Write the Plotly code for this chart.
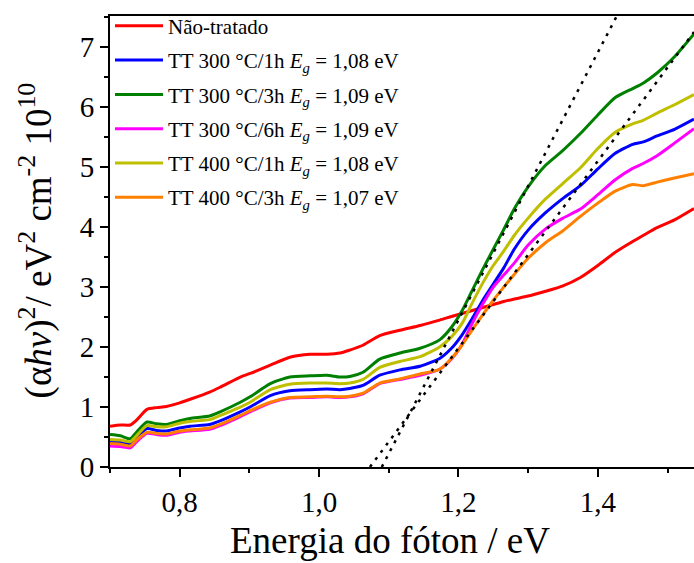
import plotly.graph_objects as go

energia = [0.700, 0.715, 0.729, 0.738, 0.753, 0.767, 0.781, 0.800, 0.815, 0.843,
           0.858, 0.887, 0.901, 0.930, 0.958, 0.987, 1.011, 1.030, 1.044, 1.063,
           1.087, 1.116, 1.145, 1.173, 1.190, 1.205, 1.220, 1.235, 1.250, 1.265,
           1.280, 1.300, 1.325, 1.350, 1.375, 1.400, 1.425, 1.450, 1.465, 1.485,
           1.510, 1.538]

nao_tratado = [0.68, 0.70, 0.70, 0.78, 0.96, 0.99, 1.01, 1.07, 1.13, 1.25,
               1.33, 1.50, 1.56, 1.70, 1.83, 1.88, 1.88, 1.90, 1.95, 2.03,
               2.19, 2.28, 2.36, 2.45, 2.51, 2.56, 2.61, 2.66, 2.71, 2.76,
               2.80, 2.85, 2.93, 3.02, 3.16, 3.36, 3.58, 3.76, 3.86, 3.99,
               4.12, 4.31]

tt300_1h = [0.43, 0.42, 0.39, 0.48, 0.64, 0.61, 0.60, 0.65, 0.68, 0.71,
            0.77, 0.92, 1.00, 1.19, 1.27, 1.29, 1.30, 1.29, 1.31, 1.36,
            1.53, 1.62, 1.68, 1.81, 1.98, 2.20, 2.48, 2.78, 3.05, 3.32,
            3.63, 3.95, 4.24, 4.48, 4.69, 4.97, 5.23, 5.38, 5.42, 5.52,
            5.63, 5.80]

tt300_3h = [0.54, 0.52, 0.47, 0.58, 0.75, 0.72, 0.71, 0.77, 0.81, 0.85,
            0.92, 1.08, 1.17, 1.39, 1.50, 1.52, 1.53, 1.50, 1.51, 1.58,
            1.80, 1.90, 1.98, 2.12, 2.33, 2.60, 2.95, 3.30, 3.63, 3.96,
            4.30, 4.67, 5.03, 5.28, 5.56, 5.87, 6.16, 6.31, 6.40, 6.57,
            6.84, 7.22]

tt300_6h = [0.35, 0.34, 0.32, 0.42, 0.56, 0.54, 0.53, 0.58, 0.60, 0.63,
            0.69, 0.84, 0.92, 1.07, 1.15, 1.16, 1.17, 1.16, 1.17, 1.22,
            1.39, 1.46, 1.53, 1.63, 1.80, 2.04, 2.40, 2.72, 3.00, 3.20,
            3.40, 3.70, 3.97, 4.15, 4.30, 4.54, 4.79, 4.98, 5.06, 5.19,
            5.40, 5.64]

tt400_1h = [0.46, 0.45, 0.42, 0.52, 0.69, 0.67, 0.67, 0.73, 0.76, 0.79,
            0.86, 1.00, 1.08, 1.29, 1.38, 1.40, 1.40, 1.39, 1.40, 1.46,
            1.66, 1.76, 1.84, 2.00, 2.17, 2.39, 2.74, 3.07, 3.36, 3.60,
            3.86, 4.15, 4.47, 4.73, 4.99, 5.31, 5.58, 5.72, 5.78, 5.90,
            6.04, 6.21]

tt400_3h = [0.39, 0.38, 0.35, 0.45, 0.58, 0.56, 0.55, 0.60, 0.62, 0.65,
            0.71, 0.86, 0.94, 1.08, 1.16, 1.17, 1.18, 1.17, 1.18, 1.23,
            1.40, 1.47, 1.55, 1.63, 1.81, 2.03, 2.29, 2.54, 2.78, 3.00,
            3.21, 3.48, 3.74, 3.94, 4.18, 4.40, 4.60, 4.71, 4.69, 4.75,
            4.82, 4.89]

nomes = ["Não-tratado",
         "TT 300 °C/1h <i>E<sub>g</sub></i> = 1,08 eV",
         "TT 300 °C/3h <i>E<sub>g</sub></i> = 1,09 eV",
         "TT 300 °C/6h <i>E<sub>g</sub></i> = 1,09 eV",
         "TT 400 °C/1h <i>E<sub>g</sub></i> = 1,08 eV",
         "TT 400 °C/3h <i>E<sub>g</sub></i> = 1,07 eV"]
series = [nao_tratado, tt300_1h, tt300_3h, tt300_6h, tt400_1h, tt400_3h]
cores = ["#FF0000", "#0000FF", "#008000", "#FF00FF", "#BFBF00", "#FF8000"]

# linear (Tauc) fits: slope and x-intercept
fit_slopes = [22.3, 15.6]
fit_eg = [1.090, 1.073]

x_range = [0.70, 1.538]
y_range = [0.0, 7.52]

fig = go.Figure()
for i, (nome, ys, cor) in enumerate(zip(nomes, series, cores)):
    fig.add_trace(go.Scatter(x=energia, y=ys, mode="lines", name=nome,
                             legendgroup=f"g{i}",
                             line=dict(color=cor, width=3, shape="spline", smoothing=0.6)))

for m, eg in zip(fit_slopes, fit_eg):
    x_end = min(x_range[1], eg + y_range[1] / m)
    fig.add_trace(go.Scatter(x=[eg, x_end], y=[0, m * (x_end - eg)], mode="lines",
                             showlegend=False, hoverinfo="skip",
                             line=dict(color="black", width=2.5, dash="3px,6px")))

font_family = "Liberation Serif"
fig.update_layout(
    width=694, height=563,
    margin=dict(l=110, r=0, t=16, b=96),
    paper_bgcolor="white", plot_bgcolor="white",
    separators=", ",
    font=dict(family=font_family, color="black"),
    showlegend=True,
    legend=dict(x=0.0, y=1.023, xanchor="left", yanchor="top",
                bgcolor="rgba(0,0,0,0)", font=dict(size=21, family=font_family),
                itemwidth=48, tracegroupgap=4),
    xaxis=dict(range=x_range, showgrid=False, zeroline=False,
               showline=True, linecolor="black", linewidth=2, mirror=True,
               ticks="outside", ticklen=8, tickwidth=2, tickcolor="black",
               tickvals=[0.8, 1.0, 1.2, 1.4], tickformat=".1f",
               tickfont=dict(size=29, family=font_family),
               minor=dict(tickvals=[0.7, 0.9, 1.1, 1.3, 1.5], ticks="outside",
                          ticklen=4, tickwidth=2, tickcolor="black")),
    yaxis=dict(range=y_range, showgrid=False, zeroline=False,
               showline=True, linecolor="black", linewidth=2, mirror=False,
               ticks="outside", ticklen=8, tickwidth=2, tickcolor="black",
               dtick=1, tick0=0,
               tickfont=dict(size=29, family=font_family),
               minor=dict(dtick=0.5, ticks="outside", ticklen=4, tickwidth=2,
                          tickcolor="black")),
)

fig.add_annotation(text="Energia do fóton / eV", xref="paper", yref="paper",
                   x=0.48, y=-0.163, xanchor="center", yanchor="middle",
                   showarrow=False, font=dict(size=37, family=font_family))
fig.add_annotation(text="(α<i>hν</i>)<sup>2</sup>/ eV<sup>2</sup> cm<sup>-2</sup> 10<sup>10</sup>",
                   xref="paper", yref="paper", x=-0.127, y=0.502,
                   xanchor="center", yanchor="middle", textangle=-90,
                   showarrow=False, font=dict(size=37, family=font_family))

fig.write_html("out.html")
